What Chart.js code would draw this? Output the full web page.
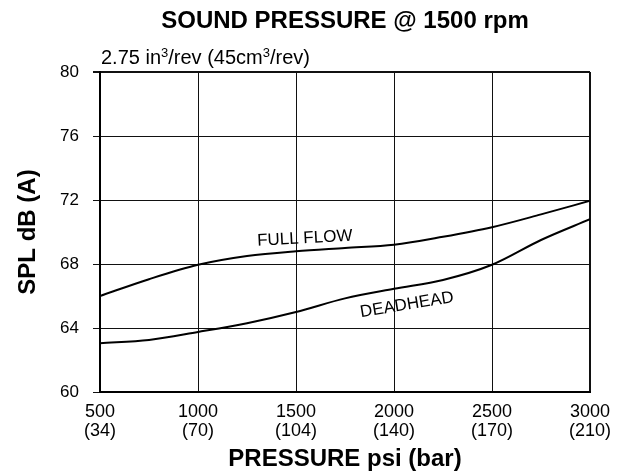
<!DOCTYPE html>
<html>
<head>
<meta charset="utf-8">
<script src="https://cdn.jsdelivr.net/npm/chart.js@4.4.1/dist/chart.umd.min.js"></script>
<style>
  html, body { margin: 0; padding: 0; background: #fff; }
  #wrap { width: 623px; height: 472px; }
</style>
</head>
<body>
<div id="wrap"><canvas id="chart" width="623" height="472"></canvas></div>
<script>
// pressure in psi, bar labels under each tick
var pressurePsi = [500, 750, 1000, 1250, 1500, 1750, 2000, 2250, 2500, 2750, 3000];
var fullFlowDb = [66.0, 67.05, 67.95, 68.5, 68.8, 69.0, 69.2, 69.7, 70.3, 71.1, 71.95];
var deadheadDb = [63.05, 63.25, 63.75, 64.3, 65.0, 65.85, 66.45, 67.0, 67.95, 69.5, 70.8];
var xTicks = [500, 1000, 1500, 2000, 2500, 3000];
var barLabels = ['(34)', '(70)', '(104)', '(140)', '(170)', '(210)'];
var yTicks = [60, 64, 68, 72, 76, 80];

var FONT = '"Liberation Sans", Arial, Helvetica, sans-serif';

function toPoints(xs, ys) {
    return xs.map(function(x, i) { return { x: x, y: ys[i] }; });
}

var textPlugin = {
    id: 'textPlugin',
    afterDraw: function(chart) {
        var ctx = chart.ctx;
        var area = chart.chartArea;
        var xs = chart.scales.x, ys = chart.scales.y;
        var cx = (area.left + area.right) / 2;
        ctx.save();
        ctx.fillStyle = '#000';

        // title
        ctx.font = 'bold 24px ' + FONT;
        ctx.textAlign = 'center';
        ctx.textBaseline = 'alphabetic';
        ctx.fillText('SOUND PRESSURE @ 1500 rpm', cx, 28);

        // subtitle with superscripts
        ctx.textAlign = 'left';
        var x = 101, y = 64;
        var parts = [['2.75 in', 0], ['3', 1], ['/rev (45cm', 0], ['3', 1], ['/rev)', 0]];
        parts.forEach(function(p) {
            ctx.font = (p[1] ? '13px ' : '20px ') + FONT;
            ctx.fillText(p[0], x, p[1] ? y - 7 : y);
            x += ctx.measureText(p[0]).width;
        });

        // axis titles
        ctx.font = 'bold 24px ' + FONT;
        ctx.textAlign = 'center';
        ctx.fillText('PRESSURE psi (bar)', cx, 466);
        ctx.save();
        ctx.translate(35, (area.top + area.bottom) / 2);
        ctx.rotate(-Math.PI / 2);
        ctx.fillText('SPL dB (A)', 0, 0);
        ctx.restore();

        // curve labels
        ctx.font = '17px ' + FONT;
        ctx.save();
        ctx.translate(xs.getPixelForValue(1546), ys.getPixelForValue(69.3));
        ctx.rotate(-3 * Math.PI / 180);
        ctx.fillText('FULL FLOW', 0, 0);
        ctx.restore();
        ctx.save();
        ctx.translate(xs.getPixelForValue(2070), ys.getPixelForValue(65.15));
        ctx.rotate(-9.4 * Math.PI / 180);
        ctx.fillText('DEADHEAD', 0, 0);
        ctx.restore();

        ctx.restore();
    }
};

var ctx = document.getElementById('chart').getContext('2d');
var chart = new Chart(ctx, {
    type: 'line',
    data: {
        datasets: [{
            label: 'FULL FLOW',
            data: toPoints(pressurePsi, fullFlowDb),
            borderColor: '#000',
            borderWidth: 2,
            pointRadius: 0,
            cubicInterpolationMode: 'monotone',
            fill: false
        }, {
            label: 'DEADHEAD',
            data: toPoints(pressurePsi, deadheadDb),
            borderColor: '#000',
            borderWidth: 2,
            pointRadius: 0,
            cubicInterpolationMode: 'monotone',
            fill: false
        }]
    },
    options: {
        responsive: false,
        animation: false,
        layout: { padding: { left: 0, right: 33, top: 72, bottom: 0 } },
        plugins: {
            legend: { display: false },
            tooltip: { enabled: false },
            title: { display: false }
        },
        scales: {
            x: {
                type: 'linear',
                min: 500,
                max: 3000,
                afterBuildTicks: function(scale) {
                    scale.ticks = xTicks.map(function(v) { return { value: v }; });
                },
                afterFit: function(scale) { scale.height = 80; },
                grid: {
                    color: '#111',
                    lineWidth: function(c) { return c.tick && c.tick.value === 3000 ? 2 : 1; },
                    drawTicks: false
                },
                border: { color: '#000', width: 2 },
                ticks: {
                    padding: 10,
                    color: '#000',
                    maxRotation: 0,
                    font: { family: FONT, size: 18, lineHeight: 1.06 },
                    callback: function(value) {
                        var i = xTicks.indexOf(value);
                        return [String(value), barLabels[i]];
                    }
                }
            },
            y: {
                type: 'linear',
                min: 60,
                max: 80,
                afterBuildTicks: function(scale) {
                    scale.ticks = yTicks.map(function(v) { return { value: v }; });
                },
                afterFit: function(scale) { scale.width = 100; },
                grid: {
                    color: '#111',
                    lineWidth: function(c) { return c.tick && c.tick.value === 80 ? 2 : 1; },
                    tickLength: 7
                },
                border: { color: '#000', width: 2 },
                ticks: {
                    padding: 14,
                    color: '#000',
                    font: { family: FONT, size: 17 }
                }
            }
        }
    },
    plugins: [textPlugin]
});
</script>
</body>
</html>
